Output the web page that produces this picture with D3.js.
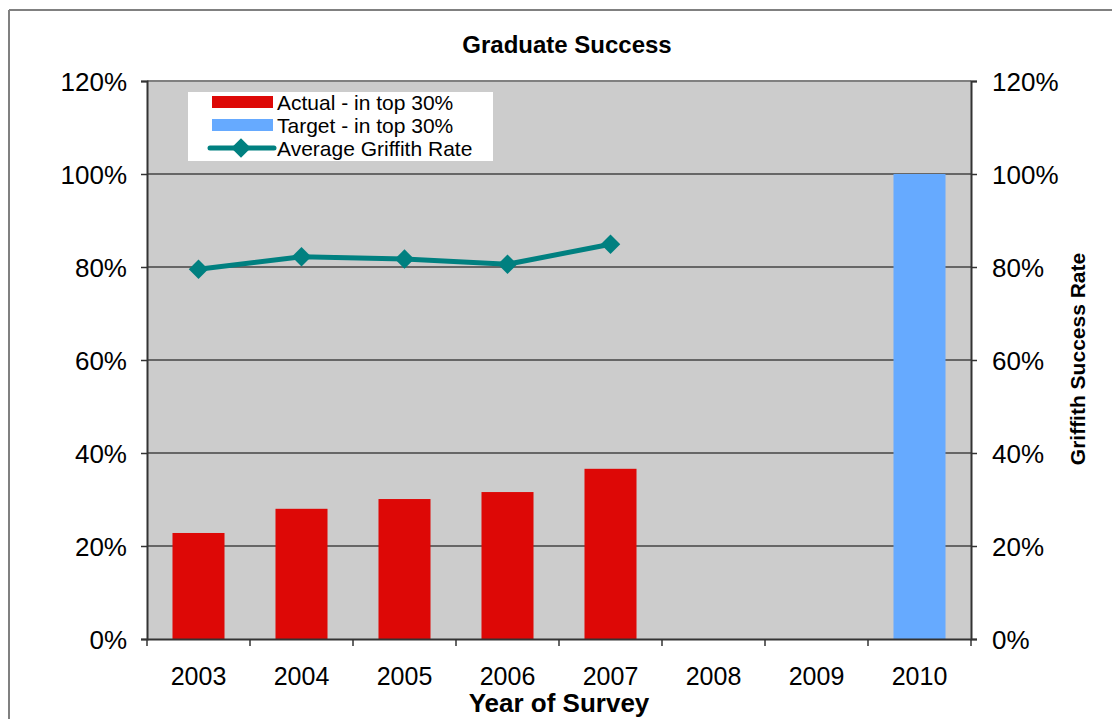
<!DOCTYPE html>
<meta charset="utf-8">
<style type="text/css">
body { margin: 0; background: #fff; }
svg { display: block; font-family: Arial, "Liberation Sans", sans-serif; }
.tick text { fill: #000; }
.grid line { stroke: #000; stroke-width: 1; }
</style>
<body>
<svg width="1112" height="719"></svg>
<script src="https://d3js.org/d3.v7.min.js"></script>
<script>

// chart values
let years = ['2003', '2004', '2005', '2006', '2007', '2008', '2009', '2010'];
let actual = [22.8, 28.0, 30.1, 31.6, 36.6, null, null, null];
let target = [null, null, null, null, null, null, null, 100];
let griffith = [79.5, 82.2, 81.7, 80.6, 84.9, null, null, null];
let yTicks = [0, 20, 40, 60, 80, 100, 120];
let legendLabels = ['Actual - in top 30%', 'Target - in top 30%', 'Average Griffith Rate'];

let plot = {left: 147, right: 971, top: 81, bottom: 639};

let svg = d3.select('svg');

// outer frame (only top + left edges are visible)
svg.append('line').attr('x1', 9).attr('y1', 10).attr('x2', 1112).attr('y2', 10)
  .attr('stroke', '#808080').attr('stroke-width', 2);
svg.append('line').attr('x1', 9).attr('y1', 10).attr('x2', 9).attr('y2', 719)
  .attr('stroke', '#808080').attr('stroke-width', 2);

var xScale = d3.scaleBand()
  .domain(years)
  .range([plot.left, plot.right])
  .padding(0);

var yScale = d3.scaleLinear()
  .domain([0, 120])
  .range([plot.bottom, plot.top]);

// plot background
svg.append('rect')
  .attr('x', plot.left).attr('y', plot.top)
  .attr('width', plot.right - plot.left).attr('height', plot.bottom - plot.top)
  .attr('fill', '#cccccc');

// top border of plot area
svg.append('line')
  .attr('x1', plot.left).attr('x2', plot.right)
  .attr('y1', plot.top).attr('y2', plot.top)
  .attr('stroke', '#808080').attr('stroke-width', 2);

// gridlines
svg.append('g').attr('class', 'grid')
  .selectAll('line')
  .data(yTicks.filter(d => d > 0 && d < 120))
  .enter().append('line')
  .attr('x1', plot.left).attr('x2', plot.right)
  .attr('y1', d => yScale(d)).attr('y2', d => yScale(d));

let barW = xScale.bandwidth() * 0.505;

function bars(values, color) {
  svg.append('g').selectAll('rect')
    .data(years.map((y, i) => ({year: y, v: values[i]})).filter(d => d.v != null))
    .enter().append('rect')
    .attr('x', d => xScale(d.year) + (xScale.bandwidth() - barW) / 2)
    .attr('y', d => yScale(d.v))
    .attr('width', barW)
    .attr('height', d => yScale(0) - yScale(d.v))
    .attr('fill', color);
}
bars(actual, '#dd0806');
bars(target, '#66aaff');

// line series
let lineData = years.map((y, i) => ({year: y, v: griffith[i]})).filter(d => d.v != null);
let line = d3.line()
  .x(d => xScale(d.year) + xScale.bandwidth() / 2)
  .y(d => yScale(d.v));

svg.append('path')
  .datum(lineData)
  .attr('d', line)
  .attr('fill', 'none')
  .attr('stroke', '#008080')
  .attr('stroke-width', 5);

let diamond = d3.symbol().type(d3.symbolSquare).size(190);
svg.append('g').selectAll('path')
  .data(lineData)
  .enter().append('path')
  .attr('d', diamond)
  .attr('fill', '#008080')
  .attr('transform', d => 'translate(' + (xScale(d.year) + xScale.bandwidth() / 2) + ',' + yScale(d.v) + ') rotate(45)');

// axes
let pct = d => d + '%';

let leftAxis = svg.append('g')
  .attr('transform', 'translate(' + plot.left + ',0)')
  .call(d3.axisLeft(yScale).tickValues(yTicks).tickFormat(pct).tickSize(6).tickPadding(14));

let rightAxis = svg.append('g')
  .attr('transform', 'translate(' + plot.right + ',0)')
  .call(d3.axisRight(yScale).tickValues(yTicks).tickFormat(pct).tickSize(6).tickPadding(15));

let bottomAxis = svg.append('g')
  .attr('transform', 'translate(0,' + plot.bottom + ')')
  .call(d3.axisBottom(xScale).tickSize(0).tickPadding(28));

// x ticks sit on band boundaries
svg.append('g').selectAll('line')
  .data(years.concat(['end']))
  .enter().append('line')
  .attr('x1', (d, i) => plot.left + i * xScale.step())
  .attr('x2', (d, i) => plot.left + i * xScale.step())
  .attr('y1', plot.bottom).attr('y2', plot.bottom + 7)
  .attr('stroke', '#333').attr('stroke-width', 1.5);

[leftAxis, rightAxis, bottomAxis].forEach(function(a) {
  a.selectAll('.domain').attr('stroke', '#333').attr('stroke-width', 2);
  a.selectAll('.tick line').attr('stroke', '#333').attr('stroke-width', 1.5);
  a.selectAll('.tick text').attr('font-size', 26).attr('font-family', 'Arial, "Liberation Sans", sans-serif');
});
leftAxis.selectAll('.tick text').attr('dy', '0.36em');
rightAxis.selectAll('.tick text').attr('dy', '0.36em');
bottomAxis.selectAll('.tick text').attr('dy', '0.71em').attr('font-size', 25);

// titles
svg.append('text')
  .attr('x', 567).attr('y', 53)
  .attr('text-anchor', 'middle')
  .attr('font-weight', 'bold').attr('font-size', 24)
  .text('Graduate Success');

svg.append('text')
  .attr('x', 559).attr('y', 712)
  .attr('text-anchor', 'middle')
  .attr('font-weight', 'bold').attr('font-size', 26)
  .text('Year of Survey');

svg.append('text')
  .attr('transform', 'translate(1085,359) rotate(-90)')
  .attr('text-anchor', 'middle')
  .attr('font-weight', 'bold').attr('font-size', 21)
  .text('Griffith Success Rate');

// legend
let legend = svg.append('g');
legend.append('rect')
  .attr('x', 188).attr('y', 92).attr('width', 305).attr('height', 69)
  .attr('fill', '#fff');

let rowY = [102, 125, 148];
legend.append('rect').attr('x', 212).attr('y', rowY[0] - 6).attr('width', 61).attr('height', 12).attr('fill', '#dd0806');
legend.append('rect').attr('x', 212).attr('y', rowY[1] - 6).attr('width', 61).attr('height', 12).attr('fill', '#66aaff');
legend.append('line').attr('x1', 210).attr('x2', 274).attr('y1', rowY[2]).attr('y2', rowY[2])
  .attr('stroke', '#008080').attr('stroke-width', 5).attr('stroke-linecap', 'round');
legend.append('path').attr('d', diamond).attr('fill', '#008080')
  .attr('transform', 'translate(241,' + rowY[2] + ') rotate(45)');

legend.selectAll('text.lg')
  .data(legendLabels)
  .enter().append('text')
  .attr('class', 'lg')
  .attr('x', 277)
  .attr('y', (d, i) => rowY[i])
  .attr('dy', '0.36em')
  .attr('font-size', 21)
  .text(d => d);

</script>
</body>
